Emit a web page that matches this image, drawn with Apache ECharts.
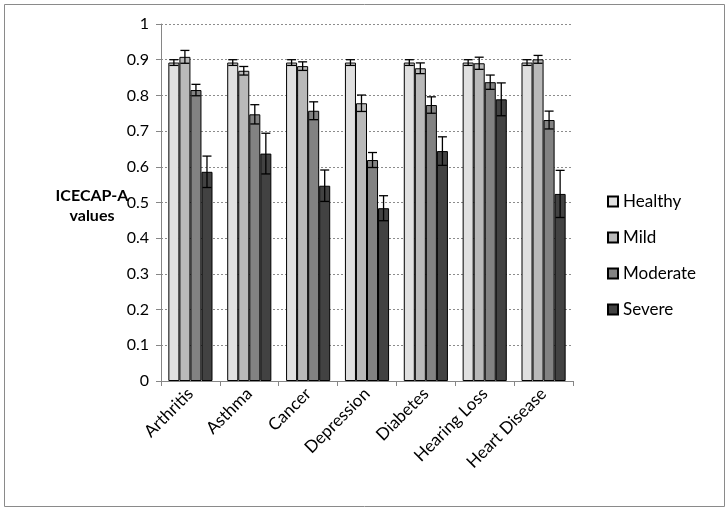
<!DOCTYPE html>
<html lang="en">
<head>
    <meta charset="UTF-8">
    <title>ICECAP-A values</title>
    <style>
        html, body { margin: 0; padding: 0; background: #fff; }
    </style>
</head>
<body>
    <div id="chart" style="width: 725px;height:508px;"></div>
    <script src="https://cdn.jsdelivr.net/npm/echarts@6/dist/echarts.min.js"></script>
    <script type="text/javascript">
       var categories = ['Arthritis', 'Asthma', 'Cancer', 'Depression', 'Diabetes', 'Hearing Loss', 'Heart Disease'];
       var seriesNames = ['Healthy', 'Mild', 'Moderate', 'Severe'];
       var healthy  = [0.892, 0.892, 0.892, 0.892, 0.892, 0.892, 0.892];
       var mild     = [0.908, 0.869, 0.882, 0.778, 0.876, 0.890, 0.901];
       var moderate = [0.815, 0.747, 0.757, 0.619, 0.773, 0.837, 0.731];
       var severe   = [0.586, 0.637, 0.547, 0.484, 0.644, 0.789, 0.524];
       // half widths of the error bars
       var healthyErr  = [0.008, 0.008, 0.008, 0.008, 0.008, 0.008, 0.008];
       var mildErr     = [0.018, 0.012, 0.012, 0.023, 0.015, 0.017, 0.011];
       var moderateErr = [0.016, 0.027, 0.025, 0.021, 0.023, 0.020, 0.025];
       var severeErr   = [0.044, 0.057, 0.044, 0.035, 0.040, 0.046, 0.066];
       var yTicks = [0, 0.1, 0.2, 0.3, 0.4, 0.5, 0.6, 0.7, 0.8, 0.9, 1];

       var colors = ['#e0e0e0', '#b9b9b9', '#828282', '#424242'];
       var values = [healthy, mild, moderate, severe];
       var errors = [healthyErr, mildErr, moderateErr, severeErr];
       var font = 'Lato, "Open Sans", sans-serif';

       var myChart = echarts.init(document.getElementById('chart'));

       function errorRender(k) {
           return function (params, api) {
               var idx = api.value(0);
               var lo = api.coord([idx, api.value(1)]);
               var hi = api.coord([idx, api.value(2)]);
               var band = api.size([1, 0])[0];
               var bw = band * 0.75 / 4;
               var cx = lo[0] + (k - 1.5) * bw;
               var half = 4.5;
               var style = { stroke: '#000', lineWidth: 1.3 };
               return {
                   type: 'group',
                   children: [
                       { type: 'line', shape: { x1: cx, y1: lo[1], x2: cx, y2: hi[1] }, style: style },
                       { type: 'line', shape: { x1: cx - half, y1: lo[1], x2: cx + half, y2: lo[1] }, style: style },
                       { type: 'line', shape: { x1: cx - half, y1: hi[1], x2: cx + half, y2: hi[1] }, style: style }
                   ]
               };
           };
       }

       var series = [];
       for (var i = 0; i < 4; i++) {
           series.push({
               name: seriesNames[i],
               type: 'bar',
               data: values[i],
               barGap: 0,
               barCategoryGap: '25%',
               itemStyle: { color: colors[i], borderColor: '#000', borderWidth: 1 },
               z: 2
           });
       }
       for (var k = 0; k < 4; k++) {
           var ed = [];
           for (var j = 0; j < categories.length; j++) {
               ed.push([j, values[k][j] - errors[k][j], values[k][j] + errors[k][j]]);
           }
           series.push({
               type: 'custom',
               renderItem: errorRender(k),
               data: ed,
               encode: { x: 0, y: [1, 2] },
               z: 5,
               silent: true
           });
       }

       var option = {
           animation: false,
           textStyle: { fontFamily: font },
           grid: { left: 161, right: 152, top: 24, bottom: 127 },
           legend: {
               data: seriesNames,
               orient: 'vertical',
               left: 602,
               top: 188,
               itemWidth: 10,
               itemHeight: 10,
               itemGap: 19,
               icon: 'rect',
               textStyle: { fontSize: 17, color: '#000', fontFamily: font }
           },
           xAxis: {
               type: 'category',
               data: categories,
               axisLine: { lineStyle: { color: '#868686' } },
               axisTick: { show: true, length: 5, lineStyle: { color: '#868686' } },
               axisLabel: { rotate: 45, fontSize: 17, color: '#000', margin: 10, fontFamily: font }
           },
           yAxis: {
               type: 'value',
               min: 0,
               max: 1,
               interval: 0.1,
               axisLine: { show: true, lineStyle: { color: '#868686' } },
               axisTick: { show: true, length: 5, lineStyle: { color: '#868686' } },
               axisLabel: {
                   fontSize: 16, color: '#000', margin: 12, fontFamily: font,
                   formatter: function (v) {
                       for (var t = 0; t < yTicks.length; t++) {
                           if (Math.abs(yTicks[t] - v) < 1e-6) return String(yTicks[t]);
                       }
                       return '';
                   }
               },
               splitLine: { lineStyle: { color: '#8c8c8c', type: [2, 2] } }
           },
           graphic: [
               { type: 'rect', left: 2, top: 2, shape: { width: 720, height: 502 }, style: { fill: 'none', stroke: '#8a8a8a', lineWidth: 1 } },
               { type: 'text', x: 92, y: 206, style: { text: 'ICECAP-A\nvalues', font: 'bold 16px ' + font, fill: '#000', align: 'center', verticalAlign: 'middle', lineHeight: 20 } }
           ],
           series: series
       };
       myChart.setOption(option);
    </script>
</body>
</html>
